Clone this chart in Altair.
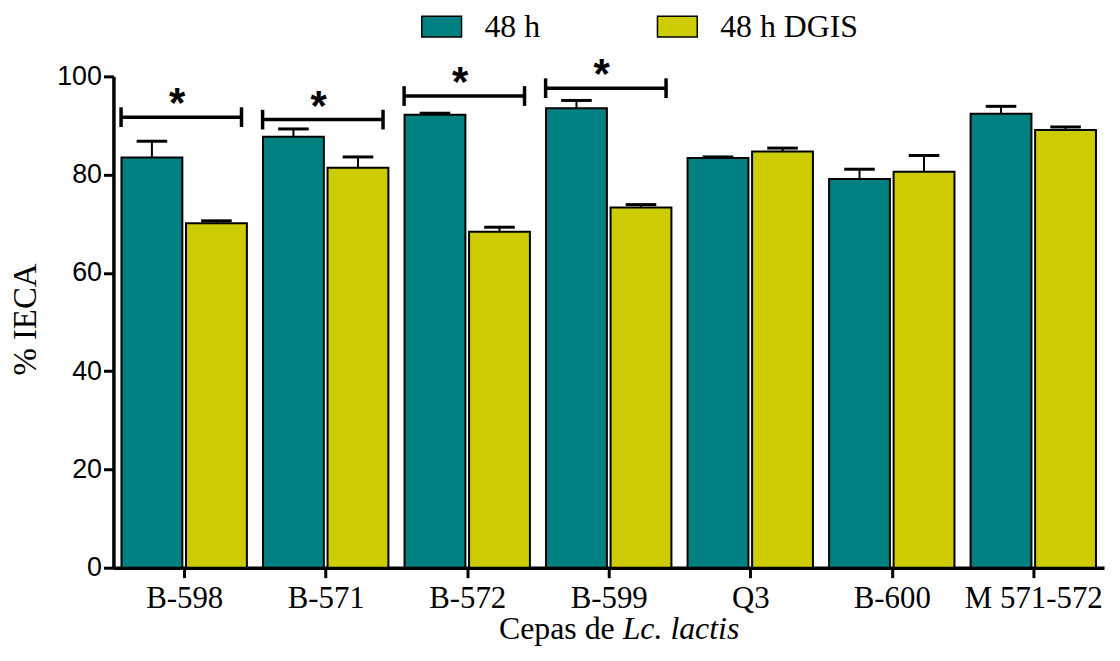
import altair as alt
import pandas as pd

# ---- data ----
strains = ["B-598", "B-571", "B-572", "B-599", "Q3", "B-600", "M 571-572"]
series = ["48 h", "48 h DGIS"]
iec_48h = [83.5, 87.7, 92.2, 93.5, 83.4, 79.1, 92.4]
sem_48h = [3.3, 1.6, 0.3, 1.6, 0.2, 2.0, 1.5]
iec_dgis = [70.1, 81.4, 68.4, 73.3, 84.7, 80.6, 89.1]
sem_dgis = [0.5, 2.2, 0.9, 0.6, 0.7, 3.3, 0.6]
sig_strains = ["B-598", "B-571", "B-572", "B-599"]
sig_level = [91.7, 91.2, 96.0, 97.6]
y_ticks = [0, 20, 40, 60, 80, 100]

# ---- layout constants (in band units, group centre = 0) ----
BAR = {"48 h": (-0.443, -0.013), "48 h DGIS": (0.013, 0.443)}
CAP_HALF = 0.108
BR_L, BR_R, BR_CAP = -0.446, 0.405, 2.0
STAR_DX = -0.05

rows = []
for i, s in enumerate(strains):
    for ser, vals, sems in ((series[0], iec_48h, sem_48h), (series[1], iec_dgis, sem_dgis)):
        lo, hi = BAR[ser]
        c = i + (lo + hi) / 2
        rows.append(dict(strain=s, series=ser, x0=i + lo, x1=i + hi, xc=c,
                         c0=c - CAP_HALF, c1=c + CAP_HALF, base=0,
                         value=vals[i], top=vals[i] + sems[i]))
df = pd.DataFrame(rows)

sig_rows = []
cap_rows = []
for s, lev in zip(sig_strains, sig_level):
    i = strains.index(s)
    sig_rows.append(dict(strain=s, bl=i + BR_L, br=i + BR_R, sx=i + STAR_DX, level=lev))
    for xe in (i + BR_L, i + BR_R):
        cap_rows.append(dict(x=xe, lo=lev - BR_CAP, hi=lev + BR_CAP))
sig = pd.DataFrame(sig_rows)
caps = pd.DataFrame(cap_rows)

label_js = "[" + ",".join("'%s'" % s for s in strains) + "][datum.value]"

xscale = alt.Scale(domain=[-0.5, len(strains) - 0.5], nice=False, zero=False)
yscale = alt.Scale(domain=[0, 100], nice=False)

xaxis = alt.Axis(values=list(range(len(strains))), labelExpr=label_js, title=None,
                 labelFont="Liberation Serif", labelFontSize=31, labelColor="black",
                 labelBaseline="alphabetic", labelPadding=30, labelFlush=False,
                 labelOverlap=False, grid=False)
yaxis = alt.Axis(values=y_ticks, title="% IECA", titleFont="Liberation Serif",
                 titleFontSize=33, titleFontWeight="normal", titleColor="black",
                 titleX=-78, titleY=244, titleAngle=270, titleBaseline="alphabetic",
                 titleAlign="center",
                 labelFont="Liberation Sans", labelFontSize=27, labelColor="black",
                 labelPadding=2, grid=False)

color = alt.Color("series:N", scale=alt.Scale(domain=series, range=["#008080", "#CCCC00"]),
                  legend=alt.Legend(title=None, orient="none", direction="horizontal",
                                    legendX=309, legendY=-71,
                                    symbolType="M-1,-0.525H1V0.525H-1Z", symbolSize=1600,
                                    symbolStrokeColor="black", symbolStrokeWidth=1.5,
                                    symbolOpacity=1,
                                    labelFont="Liberation Serif", labelFontSize=32,
                                    labelColor="black", labelOffset=22,
                                    columnPadding=115, labelLimit=400))

bars = alt.Chart(df).mark_bar(stroke="black", strokeWidth=2, opacity=1).encode(
    x=alt.X("x0:Q", scale=xscale, axis=xaxis),
    x2="x1:Q",
    y=alt.Y("value:Q", scale=yscale, axis=yaxis),
    y2="base:Q",
    color=color,
)

stems = alt.Chart(df).mark_rule(color="black", strokeWidth=2).encode(
    x=alt.X("xc:Q", scale=xscale), y=alt.Y("value:Q", scale=yscale), y2="top:Q")
ecaps = alt.Chart(df).mark_rule(color="black", strokeWidth=3).encode(
    x=alt.X("c0:Q", scale=xscale), x2="c1:Q", y=alt.Y("top:Q", scale=yscale))

brackets = alt.Chart(sig).mark_rule(color="black", strokeWidth=3.5).encode(
    x=alt.X("bl:Q", scale=xscale), x2="br:Q", y=alt.Y("level:Q", scale=yscale))
bcaps = alt.Chart(caps).mark_rule(color="black", strokeWidth=3.5).encode(
    x=alt.X("x:Q", scale=xscale), y=alt.Y("lo:Q", scale=yscale), y2="hi:Q")
stars = alt.Chart(sig).mark_text(text="*", font="Liberation Sans", fontSize=42,
                                 fontWeight="bold", baseline="alphabetic",
                                 align="center", dy=0, color="black").encode(
    x=alt.X("sx:Q", scale=xscale), y=alt.Y("level:Q", scale=yscale))

one = pd.DataFrame({"k": [0]})
title_a = alt.Chart(one).mark_text(text="Cepas de", font="Liberation Serif", fontSize=32,
                                   align="right", baseline="alphabetic", color="black").encode(
    x=alt.value(504), y=alt.value(566))
title_b = alt.Chart(one).mark_text(text="Lc. lactis", font="Liberation Serif", fontSize=32,
                                   fontStyle="italic", align="left", baseline="alphabetic",
                                   color="black").encode(
    x=alt.value(512), y=alt.value(566))

chart = alt.layer(bars, stems, ecaps, brackets, bcaps, stars, title_a, title_b).properties(
    width=996, height=494,
    autosize=alt.AutoSizeParams(type="none"),
    padding={"left": 106, "top": 67, "right": 8, "bottom": 80},
).configure_view(stroke=None).configure_axis(
    domainColor="black", domainWidth=3.5, tickColor="black", tickWidth=3, tickSize=10,
)

chart.save("out.html", embed_options={"renderer": "svg", "actions": False})
